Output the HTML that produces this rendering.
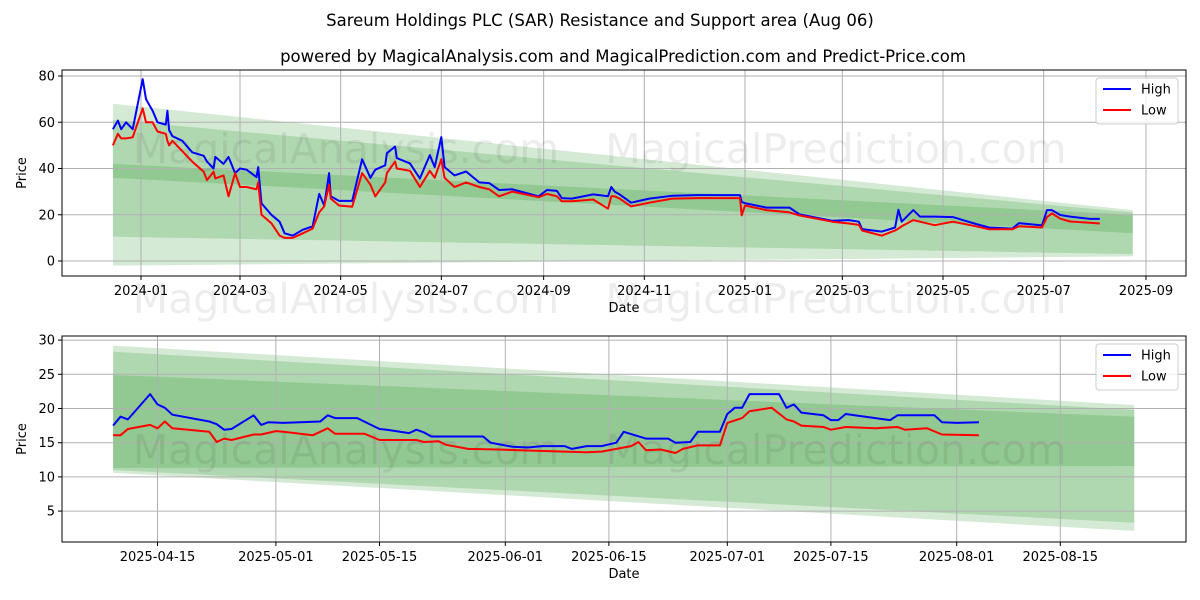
<!DOCTYPE html>
<html><head><meta charset="utf-8"><style>
body{margin:0;background:#fff;}
svg{display:block;font-family:"DejaVu Sans","Liberation Sans",sans-serif;}
</style></head><body>
<svg id="chart" width="1200" height="600" viewBox="0 0 1200 600" xmlns="http://www.w3.org/2000/svg">
<rect width="1200" height="600" fill="#fff"/>
<text x="600" y="26" text-anchor="middle" font-size="16.5">Sareum Holdings PLC (SAR) Resistance and Support area (Aug 06)</text>
<text x="623" y="62" text-anchor="middle" font-size="16.5">powered by MagicalAnalysis.com and MagicalPrediction.com and Predict-Price.com</text>
<g id="top"></g>
<g id="bot"></g>
</svg>
<script>
// ---- top panel data ----
const topDates = ["2023-12-15","2023-12-18","2023-12-20","2023-12-23","2023-12-27","2024-01-02","2024-01-04","2024-01-08","2024-01-11","2024-01-16","2024-01-17","2024-01-18","2024-01-20","2024-01-26","2024-02-01","2024-02-08","2024-02-10","2024-02-14","2024-02-15","2024-02-20","2024-02-23","2024-02-27","2024-03-01","2024-03-05","2024-03-11","2024-03-12","2024-03-14","2024-03-20","2024-03-25","2024-03-28","2024-04-02","2024-04-08","2024-04-14","2024-04-18","2024-04-21","2024-04-24","2024-04-25","2024-04-30","2024-05-08","2024-05-14","2024-05-19","2024-05-22","2024-05-28","2024-05-29","2024-06-03","2024-06-04","2024-06-12","2024-06-18","2024-06-24","2024-06-27","2024-07-01","2024-07-03","2024-07-09","2024-07-16","2024-07-24","2024-07-30","2024-08-05","2024-08-13","2024-08-29","2024-09-03","2024-09-09","2024-09-12","2024-09-18","2024-10-01","2024-10-10","2024-10-12","2024-10-14","2024-10-17","2024-10-24","2024-11-04","2024-11-18","2024-12-03","2024-12-29","2024-12-30","2025-01-01","2025-01-14","2025-01-28","2025-02-03","2025-02-23","2025-03-05","2025-03-11","2025-03-13","2025-03-25","2025-04-02","2025-04-04","2025-04-06","2025-04-13","2025-04-17","2025-04-26","2025-05-07","2025-05-21","2025-05-29","2025-06-12","2025-06-16","2025-06-30","2025-07-03","2025-07-06","2025-07-11","2025-07-17","2025-07-29","2025-08-04"];
const topHigh = [57,60.7,57,60,57,78.6,70,65,60,59,65,56.6,54,52,47,45.5,43,40,45,42,45,38,40,39.5,36.3,40.6,24.9,20,17,12,11,13.5,15,29,24,38,28,26,26,44,36,39.5,41.4,46.6,49.5,44.5,42.2,35.7,45.8,40.6,53.6,40.6,37,38.7,34,33.7,30.7,31,28,30.7,30.3,27.2,27,28.8,28,32,30,28.8,25.2,27,28.2,28.5,28.5,25.6,25,23.1,23.1,20.2,17.4,17.7,17,13.8,12.7,14.5,22.2,17,22,19.2,19.2,19,16,14.5,14,16.4,15.4,22,22,19.9,19.2,18.2,18.2];
const topLow = [50,55,53,53,53.5,66,60,60,56,55,52,50,52,47.5,43,38.6,35,38.6,35.7,37,28,38,32,32,31,34,20,16.3,11,10,10,12,14,21,23.6,33,27,24,23.5,38,33,28,34,38,43,40,39,32,39,36,44,36,32,34,32,31,28,30,27.6,29,28,25.8,25.8,26.6,22.6,28,28,27,23.6,25.2,27,27.2,27.2,19.7,24,22,21,19.7,17,16.2,15.6,13.2,11,13.2,14,15,17.7,17,15.5,17,15,13.7,13.7,15,14.5,19,20.6,18.3,17.1,16.5,16.2];
const topTicksY = [0,20,40,60,80];
const topTicksX = ["2024-01","2024-03","2024-05","2024-07","2024-09","2024-11","2025-01","2025-03","2025-05","2025-07","2025-09"];
const topBandDates = ["2023-12-15","2025-08-24"];
const topBandA = [[68,-2],[22,2]];
const topBandB = [[61,10.5],[21,3]];
const topBandC = [[42,36],[20,12]];

// ---- bottom panel data ----
const botHighDates = ["04-09","04-10","04-11","04-14","04-15","04-16","04-17","04-22","04-23","04-24","04-25","04-28","04-29","04-30","05-02","05-07","05-08","05-09","05-12","05-15","05-16","05-19","05-20","05-21","05-22","05-29","05-30","06-02","06-04","06-06","06-09","06-10","06-12","06-14","06-16","06-17","06-20","06-23","06-24","06-26","06-27","06-30","07-01","07-02","07-03","07-04","07-08","07-09","07-10","07-11","07-14","07-15","07-16","07-17","07-21","07-23","07-24","07-29","07-30","08-01","08-04"];
const botHigh = [17.5,18.8,18.4,22.1,20.6,20.1,19.1,18.1,17.7,16.9,17.0,19.0,17.6,18.0,17.9,18.1,19.0,18.6,18.6,17.0,16.9,16.4,16.9,16.5,15.9,15.9,15.0,14.4,14.3,14.5,14.5,14.1,14.5,14.5,15.0,16.6,15.6,15.6,15.0,15.1,16.6,16.6,19.2,20.1,20.1,22.1,22.1,20.1,20.6,19.4,19.0,18.3,18.3,19.2,18.6,18.3,19.0,19.0,18.0,17.9,18.0];
const botLowDates = ["04-09","04-10","04-11","04-14","04-15","04-16","04-17","04-22","04-23","04-24","04-25","04-28","04-29","05-01","05-02","05-06","05-08","05-09","05-13","05-15","05-20","05-21","05-23","05-24","05-27","05-31","06-09","06-12","06-14","06-18","06-19","06-20","06-22","06-24","06-25","06-27","06-30","07-01","07-03","07-04","07-07","07-09","07-10","07-11","07-14","07-15","07-17","07-21","07-24","07-25","07-28","07-30","08-04"];
const botLow = [16.1,16.1,17.0,17.6,17.1,18.1,17.1,16.6,15.1,15.6,15.4,16.2,16.2,16.7,16.6,16.1,17.1,16.3,16.3,15.4,15.4,15.1,15.2,14.7,14.1,14.0,13.7,13.6,13.7,14.5,15.1,13.9,14.0,13.5,14.1,14.6,14.6,17.9,18.6,19.6,20.1,18.4,18.1,17.5,17.3,16.9,17.3,17.1,17.3,16.9,17.1,16.2,16.1];
const botTicksY = [5,10,15,20,25,30];
const botTicksX = ["2025-04-15","2025-05-01","2025-05-15","2025-06-01","2025-06-15","2025-07-01","2025-07-15","2025-08-01","2025-08-15"];
const botBandDates = ["2025-04-09","2025-08-25"];
const botBandA = [[29.2,10.6],[20.5,2.1]];
const botBandB = [[28.3,11.0],[19.8,3.3]];
const botBandC = [[24.9,11.3],[18.8,11.6]];

const NS = "http://www.w3.org/2000/svg";
function mk(parent, tag, attrs){const e=document.createElementNS(NS,tag);for(const k in attrs)e.setAttribute(k,attrs[k]);parent.appendChild(e);return e;}
function dayNum(s){if(s.length===7)s+="-01";return Date.UTC(+s.slice(0,4),+s.slice(5,7)-1,+s.slice(8,10))/86400000;}

function panel(g, cfg){
  const {L,R,T,B,x,y} = cfg;
  [cfg.bandA,cfg.bandB,cfg.bandC].forEach((b,i)=>{
    const x0=x(cfg.bandDates[0]), x1=x(cfg.bandDates[1]);
    const p = mk(g,"polygon",{points:`${x0},${y(b[0][0])} ${x1},${y(b[1][0])} ${x1},${y(b[1][1])} ${x0},${y(b[0][1])}`,fill:"#008000","fill-opacity":"0.17"});
    
    
  });
  cfg.ticksX.forEach(t=>{
    const xx=x(t);
    const l=mk(g,"line",{x1:xx,x2:xx,y1:T,y2:B,stroke:"#b0b0b0","stroke-width":"1"});
    
    
    mk(g,"line",{x1:xx,x2:xx,y1:B,y2:B+4,stroke:"#000","stroke-width":"1"});
    const tx=mk(g,"text",{x:xx,y:B+19,"text-anchor":"middle","font-size":"13"});
    tx.textContent=t;
    
    
  });
  cfg.ticksY.forEach(t=>{
    const yy=y(t);
    const l=mk(g,"line",{x1:L,x2:R,y1:yy,y2:yy,stroke:"#b0b0b0","stroke-width":"1"});
    
    
    mk(g,"line",{x1:L-4,x2:L,y1:yy,y2:yy,stroke:"#000","stroke-width":"1"});
    const tx=mk(g,"text",{x:L-7,y:yy+4.5,"text-anchor":"end","font-size":"13"});
    tx.textContent=t;
    
    
  });
  cfg.wm.forEach(w=>{
    const t=mk(g,"text",{x:w[0],y:w[1],"text-anchor":"middle","font-size":"41",fill:"#000","fill-opacity":"0.07"});
    t.textContent=w[2];
    
    
  });
  const mkLine=(dates,vals,color,name)=>{
    const pts=dates.map((d,i)=>x(d).toFixed(1)+","+y(vals[i]).toFixed(1)).join(" ");
    const pl=mk(g,"polyline",{points:pts,fill:"none",stroke:color,"stroke-width":"2","stroke-linejoin":"round"});
    
    
  };
  mkLine(cfg.highDates,cfg.high,"#0000ff","high-line");
  mkLine(cfg.lowDates,cfg.low,"#ff0000","low-line");
  const fr=mk(g,"rect",{x:L,y:T,width:R-L,height:B-T,fill:"none",stroke:"#000","stroke-width":"1"});
  
  
  const xl=mk(g,"text",{x:(L+R)/2,y:B+36,"text-anchor":"middle","font-size":"13"});
  xl.textContent="Date";
  
  
  const yl=mk(g,"text",{x:0,y:0,"text-anchor":"middle","font-size":"13",transform:`translate(26,${(T+B)/2}) rotate(-90)`});
  yl.textContent="Price";
  
  
  const lg=mk(g,"g",{});
  
  
  mk(lg,"rect",{x:1096,y:T+8,width:82,height:46,rx:3,fill:"#fff","fill-opacity":"0.8",stroke:"#cccccc"});
  [["High","#0000ff",T+19],["Low","#ff0000",T+40]].forEach(e=>{
    const en=mk(lg,"g",{});
    
    
    mk(en,"line",{x1:1103,x2:1131,y1:e[2],y2:e[2],stroke:e[1],"stroke-width":"2"});
    const t=mk(en,"text",{x:1141,y:e[2]+4.5,"font-size":"13"});
    t.textContent=e[0];
  });
}

const tg=document.getElementById("top");
const t0=dayNum("2024-01-01");
panel(tg,{L:62,R:1186,T:70,B:276,
  x:d=>141+(dayNum(d)-t0)*1.6502,
  y:v=>261-v*2.3125,
  bandDates:topBandDates,bandA:topBandA,bandB:topBandB,bandC:topBandC,
  ticksX:topTicksX,ticksY:topTicksY,
  highDates:topDates,high:topHigh,lowDates:topDates,low:topLow,
  wm:[[346,163,"MagicalAnalysis.com"],[836,163,"MagicalPrediction.com"],[346,313,"MagicalAnalysis.com"],[836,313,"MagicalPrediction.com"]]});

const bg=document.getElementById("bot");
const b0=dayNum("2025-04-15");
const bx=d=>157.5+(dayNum(d.length===5?"2025-"+d:d)-b0)*7.4;
panel(bg,{L:62,R:1186,T:336,B:542,
  x:bx,
  y:v=>545.3-v*6.84,
  bandDates:botBandDates,bandA:botBandA,bandB:botBandB,bandC:botBandC,
  ticksX:botTicksX,ticksY:botTicksY,
  highDates:botHighDates,high:botHigh,lowDates:botLowDates,low:botLow,
  wm:[[346,464,"MagicalAnalysis.com"],[836,464,"MagicalPrediction.com"]]});
</script>
</body></html>
